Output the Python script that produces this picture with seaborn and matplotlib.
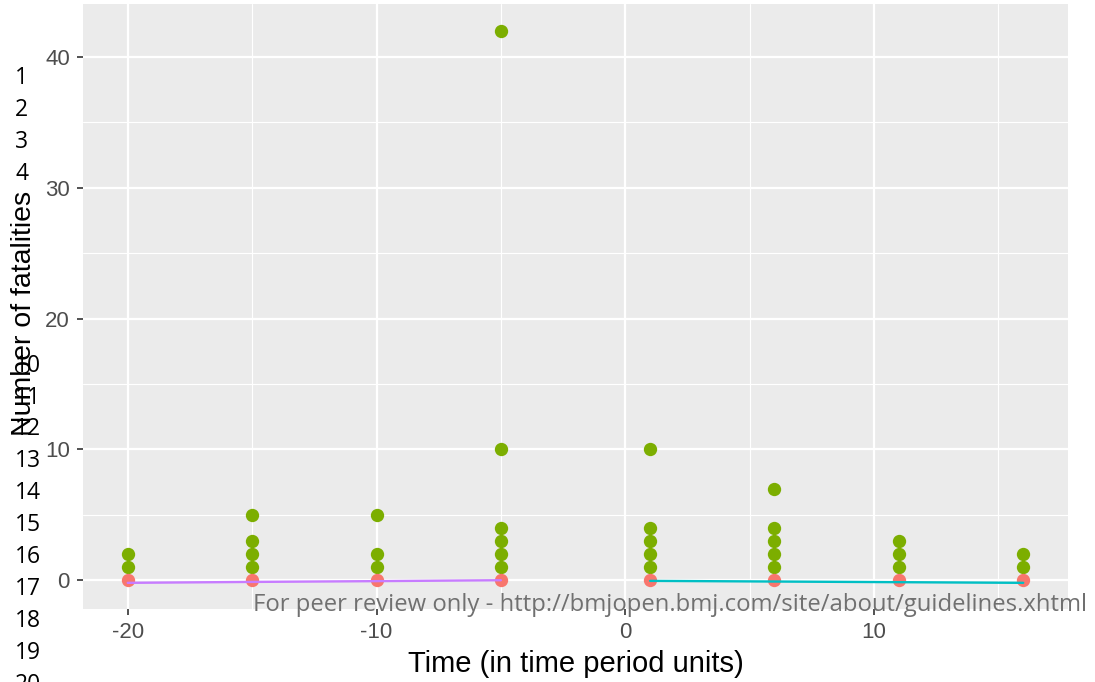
import matplotlib
matplotlib.use("Agg")
import matplotlib.pyplot as plt
from matplotlib.ticker import MultipleLocator
import seaborn as sns
import pandas as pd

# Data
green_x = [-20, -20, -15, -15, -15, -15, -10, -10, -10,
           -5, -5, -5, -5, -5, -5,
           1, 1, 1, 1, 1,
           6, 6, 6, 6, 6,
           11, 11, 11,
           16, 16]
green_y = [1, 2, 1, 2, 3, 5, 1, 2, 5,
           1, 2, 3, 4, 10, 42,
           1, 2, 3, 4, 10,
           1, 2, 3, 4, 7,
           1, 2, 3,
           1, 2]
red_x = [-20, -15, -10, -5, 1, 6, 11, 16]
red_y = [0, 0, 0, 0, 0, 0, 0, 0]
pre_x = [-20, -15, -10, -5]
pre_fit = [-0.2, -0.13, -0.07, 0.0]
post_x = [1, 6, 11, 16]
post_fit = [-0.05, -0.1, -0.15, -0.2]
x_ticks = [-20, -10, 0, 10]
y_ticks = [0, 10, 20, 30, 40]
line_numbers = [1, 2, 3, 4, 10, 11, 12, 13, 14, 15, 16, 17, 18, 19, 20]
watermark = "For peer review only - http://bmjopen.bmj.com/site/about/guidelines.xhtml"

sns.set_theme(style="darkgrid")
plt.rcParams['font.family'] = ['Liberation Sans', 'DejaVu Sans']

W, H = 1095, 682
fig = plt.figure(figsize=(W / 100, H / 100), dpi=100)
ax = fig.add_axes([83 / W, 1 - 609 / H, (1068 - 83) / W, (609 - 4) / H])
ax.set_facecolor("#EBEBEB")

green_df = pd.DataFrame({"x": green_x, "y": green_y})
red_df = pd.DataFrame({"x": red_x, "y": red_y})
pre_df = pd.DataFrame({"x": pre_x, "y": pre_fit})
post_df = pd.DataFrame({"x": post_x, "y": post_fit})

sns.scatterplot(data=green_df, x="x", y="y", ax=ax, color="#7CAE00", s=92,
                linewidth=0, zorder=3)
sns.scatterplot(data=red_df, x="x", y="y", ax=ax, color="#F8766D", s=92,
                linewidth=0, zorder=3)
sns.lineplot(data=pre_df, x="x", y="y", ax=ax, color="#C77CFF", linewidth=1.7, zorder=4)
sns.lineplot(data=post_df, x="x", y="y", ax=ax, color="#00BFC4", linewidth=1.7, zorder=4)

ax.set_xlim(-21.8, 17.8)
ax.set_ylim(-2.2, 44.05)
ax.set_xticks(x_ticks)
ax.set_yticks(y_ticks)
ax.set_xticklabels([str(t) for t in x_ticks])
ax.set_yticklabels([str(t) for t in y_ticks])
ax.xaxis.set_minor_locator(MultipleLocator(5))
ax.yaxis.set_minor_locator(MultipleLocator(5))
ax.grid(which="major", color="white", linewidth=1.6)
ax.grid(which="minor", color="white", linewidth=0.8)
ax.set_axisbelow(True)
for sp in ax.spines.values():
    sp.set_visible(False)
ax.tick_params(which="major", length=4.5, width=1.2, color="#333333",
               labelsize=16, labelcolor="#4D4D4D", pad=5,
               bottom=True, left=True)
ax.tick_params(which="minor", length=0)

ax.set_xlabel("Time (in time period units)", fontsize=21, color="black")
ax.xaxis.set_label_coords(0.5, (609 - 664) / 605)
ax.xaxis.label.set_va("center")
ax.set_ylabel("")
fig.text(24 / W, 1 - 313 / H, "Number of fatalities", rotation=90, fontsize=20.5,
         color="black", ha="center", va="center")

for n in line_numbers:
    y = 78 + (n - 1) * 31.95
    fig.text(15 / W, 1 - y / H, str(n), fontsize=16.5, color="black",
             ha="left", va="center", family=["Open Sans", "DejaVu Sans"])

fig.text(253 / W, 1 - 605 / H, watermark, fontsize=17.2, color="#707070",
         ha="left", va="center", family=["Open Sans", "DejaVu Sans"], zorder=10)

fig.savefig("out.png", dpi=100)
